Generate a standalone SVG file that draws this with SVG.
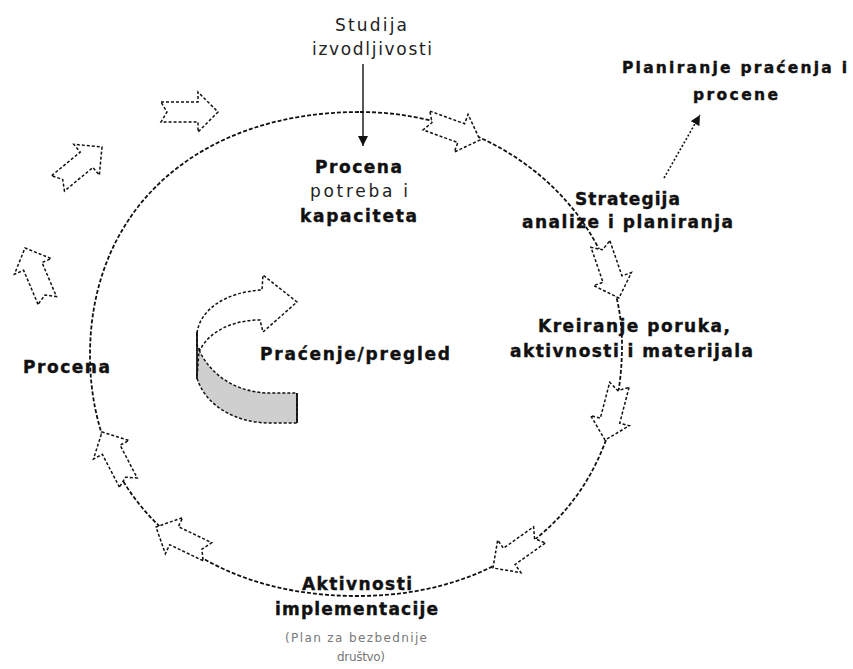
<svg xmlns="http://www.w3.org/2000/svg" width="853" height="669" viewBox="0 0 853 669">
<style>
.bg{fill:#fff}
.ring{fill:none;stroke:#111;stroke-width:1.8;stroke-dasharray:4 2}
.blk{fill:#fff;stroke:#111;stroke-width:1.5;stroke-dasharray:3 2}
.solid{fill:none;stroke:#111;stroke-width:1.8}
.gray{fill:#cfcfcf;stroke:#111;stroke-width:1.5;stroke-dasharray:3 2}
.b{font-family:"DejaVu Sans",Verdana,sans-serif;font-weight:bold;font-size:17px;fill:#111;stroke:#111;stroke-width:0.4;text-anchor:middle}
.r{font-family:"DejaVu Sans",Verdana,sans-serif;font-size:17px;fill:#222;text-anchor:middle}
.s{font-family:"DejaVu Sans",Verdana,sans-serif;font-size:12px;fill:#777;text-anchor:middle}
</style>
<defs>
<path id="blockArrow" d="M-57,-10 L-20,-10 L-20,-20 L0,0 L-20,20 L-20,10 L-57,10 L-51,0 Z"/>
<marker id="tri" viewBox="0 0 10 10" refX="10" refY="5" markerWidth="10" markerHeight="10" markerUnits="userSpaceOnUse" orient="auto">
<path d="M0,0 L10,5 L0,10 Z" fill="#111"/>
</marker>
</defs>
<rect class="bg" x="0" y="0" width="853" height="669"/>
<g id="connectors">
<path id="cycle" class="ring" d="M360,112 C505,112 622,216 622,345 C622,496 516,596 357,596 C197,596 90,500 90,355 C90,209 198,112 360,112 Z"/>
<line x1="363" y1="64" x2="363" y2="146" stroke="#111" stroke-width="1.4" marker-end="url(#tri)"/>
<line x1="664" y1="178" x2="700" y2="115" stroke="#111" stroke-width="1.6" stroke-dasharray="2 2" marker-end="url(#tri)"/>
<use href="#blockArrow" class="blk" transform="translate(480,140) rotate(20)"/>
<use href="#blockArrow" class="blk" transform="translate(619,298) rotate(71)"/>
<use href="#blockArrow" class="blk" transform="translate(605,440) rotate(104.6)"/>
<use href="#blockArrow" class="blk" transform="translate(493,568) rotate(144.5)"/>
<use href="#blockArrow" class="blk" transform="translate(156,527) rotate(205.7)"/>
<use href="#blockArrow" class="blk" transform="translate(102,432) rotate(242.5)"/>
<use href="#blockArrow" class="blk" transform="translate(25,248) rotate(-113)"/>
<use href="#blockArrow" class="blk" transform="translate(102,147) rotate(-39.6)"/>
<use href="#blockArrow" class="blk" transform="translate(218,112)"/>
</g>
<g id="studija">
<text class="r" x="371" y="31" textLength="72" lengthAdjust="spacing">Studija</text>
<text class="r" x="372" y="55" textLength="120" lengthAdjust="spacing">izvodljivosti</text>
</g>
<g id="procena-potreba">
<text class="b" x="358.5" y="173" textLength="87" lengthAdjust="spacing">Procena</text>
<text class="r" x="359" y="197" textLength="98" lengthAdjust="spacing">potreba i</text>
<text class="b" x="358.5" y="222" textLength="117" lengthAdjust="spacing">kapaciteta</text>
</g>
<g id="planiranje">
<text class="b" x="734.5" y="73" style="font-size:15.5px" textLength="225" lengthAdjust="spacing">Planiranje praćenja i</text>
<text class="b" x="735.5" y="100" style="font-size:15.5px" textLength="85" lengthAdjust="spacing">procene</text>
</g>
<g id="strategija">
<text class="b" x="627.5" y="205" textLength="105" lengthAdjust="spacing">Strategija</text>
<text class="b" x="627.5" y="228" textLength="211" lengthAdjust="spacing">analize i planiranja</text>
</g>
<g id="kreiranje">
<text class="b" x="634" y="332" textLength="192" lengthAdjust="spacing">Kreiranje poruka,</text>
<text class="b" x="631.5" y="357" textLength="243" lengthAdjust="spacing">aktivnosti i materijala</text>
</g>
<g id="aktivnosti">
<text class="b" x="357" y="590" textLength="110" lengthAdjust="spacing">Aktivnosti</text>
<text class="b" x="356.5" y="615" textLength="163" lengthAdjust="spacing">implementacije</text>
<text class="s" x="356" y="642" textLength="142" lengthAdjust="spacing">(Plan za bezbednije</text>
<text class="s" x="361" y="661" textLength="48" lengthAdjust="spacing">društvo)</text>
</g>
<g id="procena">
<text class="b" x="66.5" y="373" textLength="87" lengthAdjust="spacing">Procena</text>
</g>
<g id="pracenje">
<path class="gray" d="M199,350 C212,378 240,393 270,393 L297,393 L297,423 L270,423 C235,423 205,405 197,378 Z"/>
<line x1="297" y1="393" x2="297" y2="423" class="solid" stroke-width="1.4"/>
<path class="blk" d="M197,333 C200,310 225,292 262,290 L263,275 L297,302 L263,332 L260,320 C235,320 210,330 200,350 L197,345 Z"/>
<line x1="197" y1="332" x2="197" y2="379" class="solid"/>
<text class="b" x="355" y="360" textLength="190" lengthAdjust="spacing">Praćenje/pregled</text>
</g>
</svg>
